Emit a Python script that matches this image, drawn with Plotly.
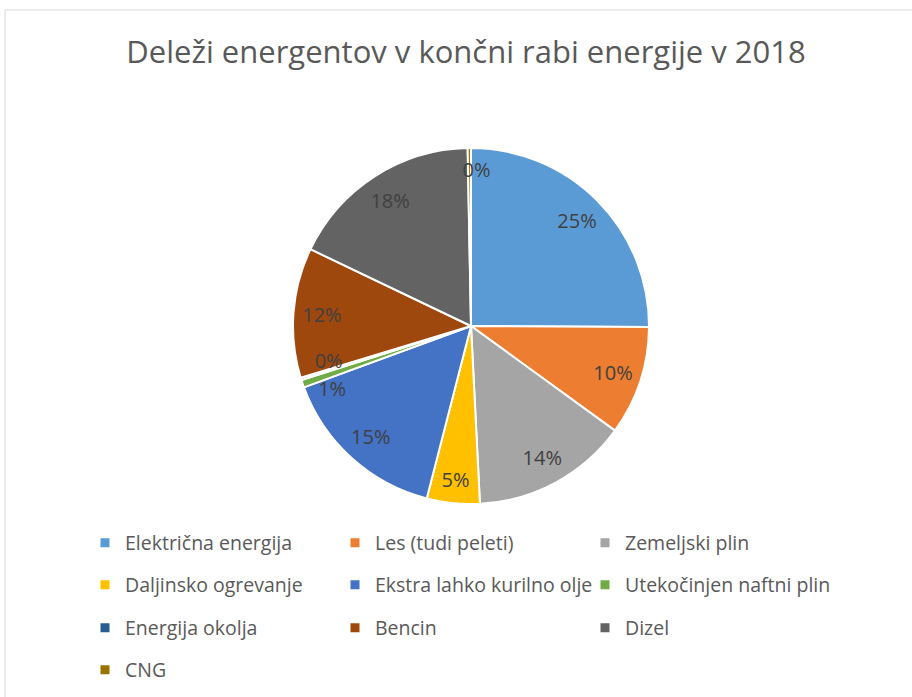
import plotly.graph_objects as go

categories = ["Električna energija", "Les (tudi peleti)", "Zemeljski plin",
              "Daljinsko ogrevanje", "Ekstra lahko kurilno olje", "Utekočinjen naftni plin",
              "Energija okolja", "Bencin", "Dizel", "CNG"]
shares = [25.1, 9.9, 14.2, 4.8, 15.4, 0.7, 0.2, 11.8, 17.6, 0.3]
colors = ["#5B9BD5", "#ED7D31", "#A5A5A5", "#FFC000", "#4472C4", "#70AD47",
          "#255E91", "#9E480E", "#636363", "#997300"]
title_text = "Deleži energentov v končni rabi energije v 2018"

W, H = 912, 697
cx, cy, r = 471, 326, 178


def domain(x, y, rad):
    return dict(x=[(x - rad) / W, (x + rad) / W], y=[1 - (y + rad) / H, 1 - (y - rad) / H])


fig = go.Figure()
# coloured slices
fig.add_trace(go.Pie(
    labels=categories, values=shares, sort=False, direction="clockwise", rotation=0,
    marker=dict(colors=colors, line=dict(color="white", width=2)),
    textinfo="none", showlegend=False, hoverinfo="label+percent",
    domain=domain(cx, cy, r),
))

# transparent rings carrying the percentage labels near the rim
small = {"Utekočinjen naftni plin": (471, 341, 150),
         "Energija okolja": (471, 316, 150),
         "CNG": (478, 326, 158)}


def label_ring(show, dom):
    fig.add_trace(go.Pie(
        labels=categories, values=shares, sort=False, direction="clockwise", rotation=0,
        hole=0.68,
        marker=dict(colors=["rgba(0,0,0,0)"] * len(categories), line=dict(width=0)),
        texttemplate=["%{percent:.0%}" if s else "" for s in show],
        textposition="inside", insidetextorientation="horizontal",
        textfont=dict(family="Open Sans", size=20, color="#404040"),
        showlegend=False, hoverinfo="skip", domain=dom,
    ))


label_ring([c not in small for c in categories], domain(cx, cy, r))
for name, (x, y, rad) in small.items():
    label_ring([c == name for c in categories], domain(x, y, rad))

# legend entries: 3 columns x 4 rows, one legend per row
rows_y = [543, 585, 628, 670]
legend_names = ["legend", "legend2", "legend3", "legend4"]
for i, (cat, col) in enumerate(zip(categories, colors)):
    row = i // 3
    fig.add_trace(go.Scatter(
        x=[None], y=[None], mode="markers", name=cat,
        marker=dict(symbol="square", size=9, color=col),
        legend=legend_names[row], showlegend=True, hoverinfo="skip",
    ))

legend_common = dict(orientation="h", xanchor="left", yanchor="middle",
                     x=85 / W, entrywidth=205, entrywidthmode="pixels",
                     font=dict(family="Open Sans", size=19.5, color="#595959"),
                     bgcolor="rgba(0,0,0,0)", itemclick=False, itemdoubleclick=False)
layout_legends = {}
for name, y in zip(legend_names, rows_y):
    layout_legends[name] = dict(legend_common, y=1 - y / H)

fig.update_layout(
    width=W, height=H, margin=dict(l=0, r=0, t=0, b=0),
    paper_bgcolor="white", plot_bgcolor="white",
    title=dict(text=title_text, x=466 / W, xanchor="center", y=1 - 52 / H, yanchor="middle",
               font=dict(family="Open Sans", size=31, color="#595959")),
    xaxis=dict(visible=False), yaxis=dict(visible=False),
    uniformtext=dict(minsize=20, mode="show"),
    shapes=[dict(type="rect", xref="paper", yref="paper", x0=5 / W, x1=1.05, y0=-0.05,
                 y1=1 - 10 / H, line=dict(color="#D9D9D9", width=1))],
    **layout_legends,
)

fig.write_html("out.html", config={"displayModeBar": False},
               post_script="document.body.style.margin='0px';")
